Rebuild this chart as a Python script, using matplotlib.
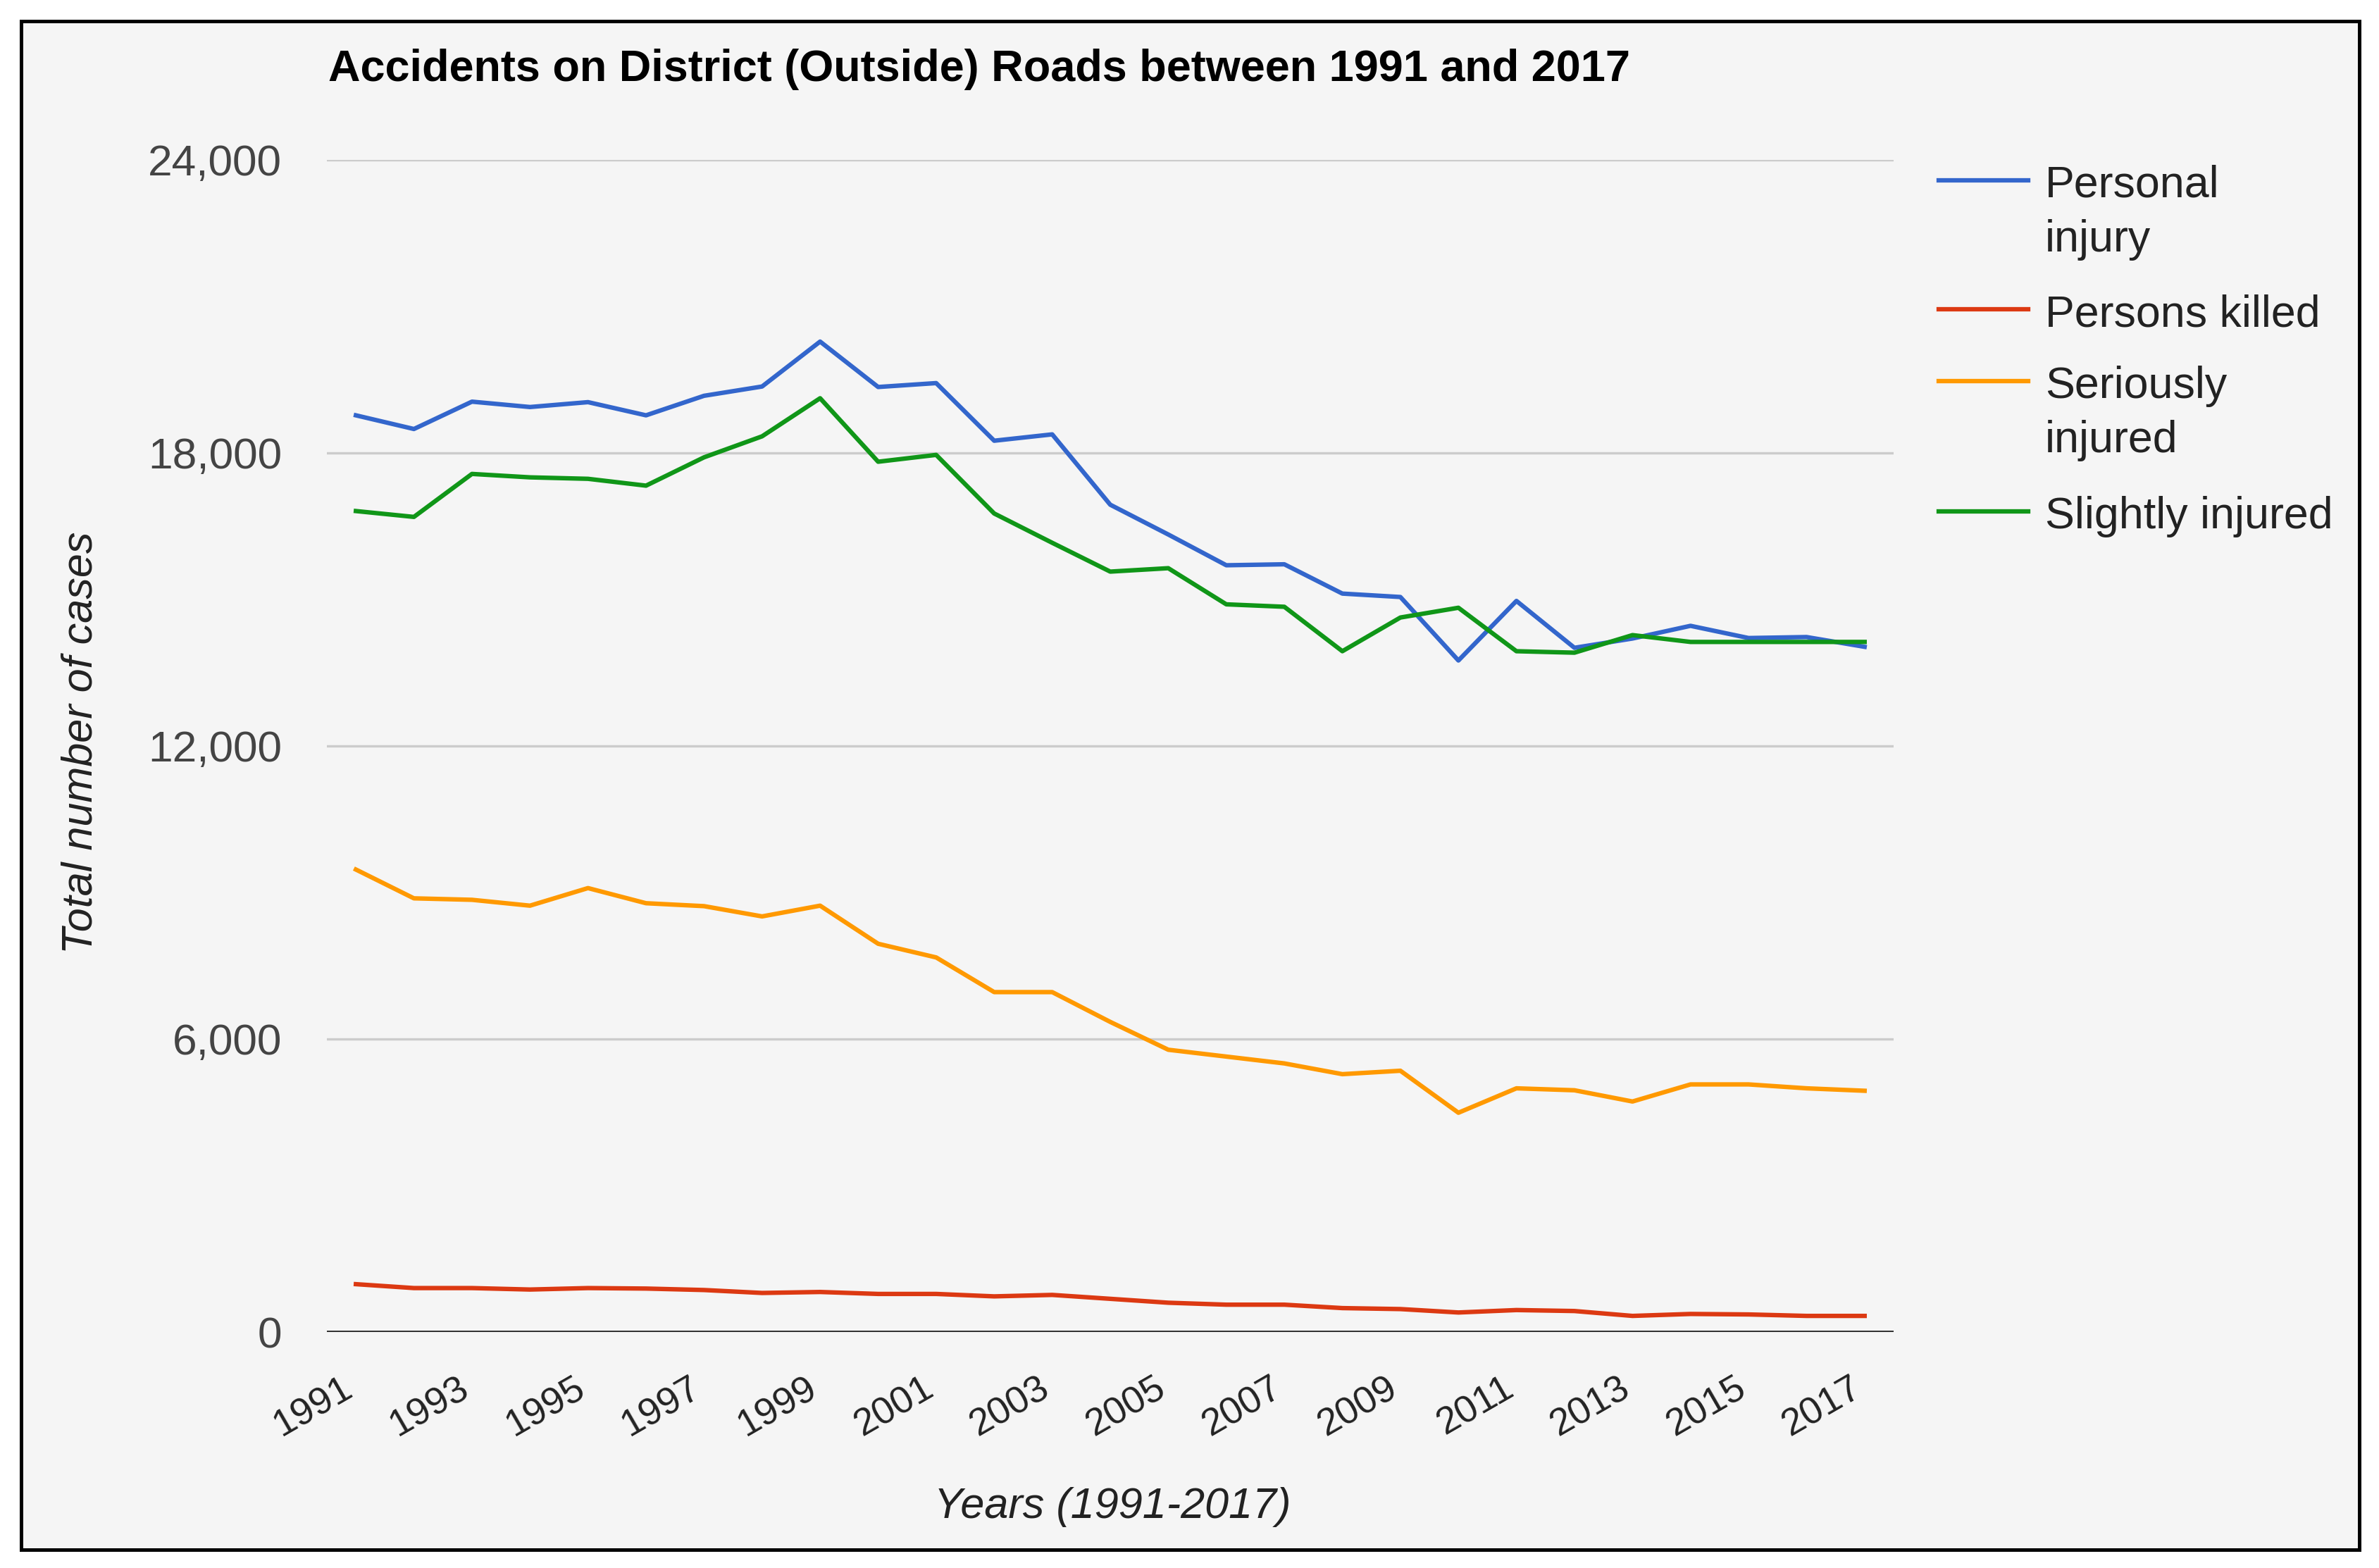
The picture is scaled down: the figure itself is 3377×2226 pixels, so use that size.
import matplotlib
matplotlib.use("Agg")
import matplotlib.pyplot as plt
import matplotlib.patches as mpatches
import matplotlib.transforms as mtransforms
from matplotlib.lines import Line2D
from matplotlib.ticker import StrMethodFormatter

plt.rcParams['font.family'] = ['Liberation Sans', 'DejaVu Sans']

# Data
years = [1991, 1992, 1993, 1994, 1995, 1996, 1997, 1998, 1999, 2000,
         2001, 2002, 2003, 2004, 2005, 2006, 2007, 2008, 2009, 2010,
         2011, 2012, 2013, 2014, 2015, 2016, 2017]
personal_injury = [18770, 18490, 19050, 18940, 19040, 18770, 19170, 19360, 20280, 19350,
                   19430, 18250, 18380, 16940, 16330, 15700, 15720, 15120, 15050, 13750,
                   14970, 14010, 14200, 14460, 14210, 14230, 14030]
persons_killed = [980, 900, 900, 870, 900, 890, 860, 800, 820, 780,
                  780, 730, 760, 680, 600, 560, 560, 490, 470, 400,
                  450, 430, 330, 370, 360, 330, 330]
seriously_injured = [9470, 8880, 8850, 8730, 9090, 8780, 8720, 8510, 8730, 7950,
                     7670, 6960, 6960, 6350, 5780, 5640, 5500, 5280, 5350, 4490,
                     4990, 4950, 4720, 5070, 5070, 4990, 4940]
slightly_injured = [16810, 16690, 17570, 17500, 17470, 17330, 17910, 18340, 19120, 17820,
                    17960, 16760, 16160, 15570, 15640, 14900, 14850, 13940, 14630, 14830,
                    13940, 13910, 14270, 14130, 14130, 14130, 14130]

series_names = ["Personal\ninjury", "Persons killed", "Seriously\ninjured", "Slightly injured"]
series_values = [personal_injury, persons_killed, seriously_injured, slightly_injured]
colors = ["#3366cc", "#dc3912", "#ff9900", "#109618"]
x_tick_years = [1991, 1993, 1995, 1997, 1999, 2001, 2003, 2005, 2007, 2009, 2011, 2013, 2015, 2017]
y_ticks = [0, 6000, 12000, 18000, 24000]

W, H = 3377, 2226
DPI = 200
fig = plt.figure(figsize=(W / DPI, H / DPI), dpi=DPI, facecolor="white")
px = 72 / DPI  # points per pixel

# light grey panel with black frame
frame = mpatches.Rectangle((30 / W, 1 - 2200 / H), 3319 / W, 2170 / H,
                           transform=fig.transFigure, facecolor="#f5f5f5",
                           edgecolor="black", linewidth=5 * px, zorder=0)
fig.add_artist(frame)

ax = fig.add_axes([464 / W, 1 - 1891 / H, 2224 / W, 1664 / H])
ax.set_facecolor("none")
for s in ax.spines.values():
    s.set_visible(False)

for vals, col in zip(series_values, colors):
    ax.plot(years, vals, color=col, linewidth=6.3 * px, zorder=3)

ax.set_xlim(1990.5, 2017.5)
ax.set_ylim(0, 24000)
ax.set_yticks(y_ticks)
ax.yaxis.set_major_formatter(StrMethodFormatter("{x:,.0f}"))
ax.grid(axis="y", color="#cccccc", linewidth=3.4 * px, zorder=1)
ax.axhline(0, color="#333333", linewidth=4 * px, zorder=2)

ax.tick_params(axis="y", length=0, pad=64 * px, labelsize=22.4, labelcolor="#444444")
ax.set_xticks(x_tick_years)
ax.set_xticklabels([str(y) for y in x_tick_years])
ax.tick_params(axis="x", length=0, pad=76 * px, labelsize=19.5, labelcolor="#222222")
shift = mtransforms.ScaledTranslation(-8 / DPI, 0, fig.dpi_scale_trans)
for lab in ax.get_xticklabels():
    lab.set_rotation(30)
    lab.set_rotation_mode("anchor")
    lab.set_ha("right")
    lab.set_va("center")
    lab.set_transform(lab.get_transform() + shift)

ax.set_ylabel("Total number of cases", fontsize=22, style="italic", color="#222222", va="center")
ax.yaxis.set_label_coords((115 - 464) / 2224, 0.503)
ax.set_xlabel("Years (1991-2017)", fontsize=22, style="italic", color="#222222", va="center")
ax.xaxis.set_label_coords(0.5013, (1891 - 2140) / 1664)

fig.text(466 / W, 1 - 115 / H, "Accidents on District (Outside) Roads between 1991 and 2017",
         fontsize=22.7, fontweight="bold", color="black", ha="left", va="baseline")

# legend, drawn by hand so the swatch sits on the first text line
legend_baselines = [279, 462, 564, 749]
for name, col, base in zip(series_names, colors, legend_baselines):
    yc = base - 23
    fig.add_artist(Line2D([2752 / W, 2879 / W], [1 - yc / H, 1 - yc / H],
                          transform=fig.transFigure, color=col, linewidth=6.3 * px))
    fig.text(2903 / W, 1 - (base - 45) / H, name, fontsize=22.6, color="#222222",
             ha="left", va="top", linespacing=1.4)

fig.savefig("out.png", dpi=DPI, facecolor="white")
